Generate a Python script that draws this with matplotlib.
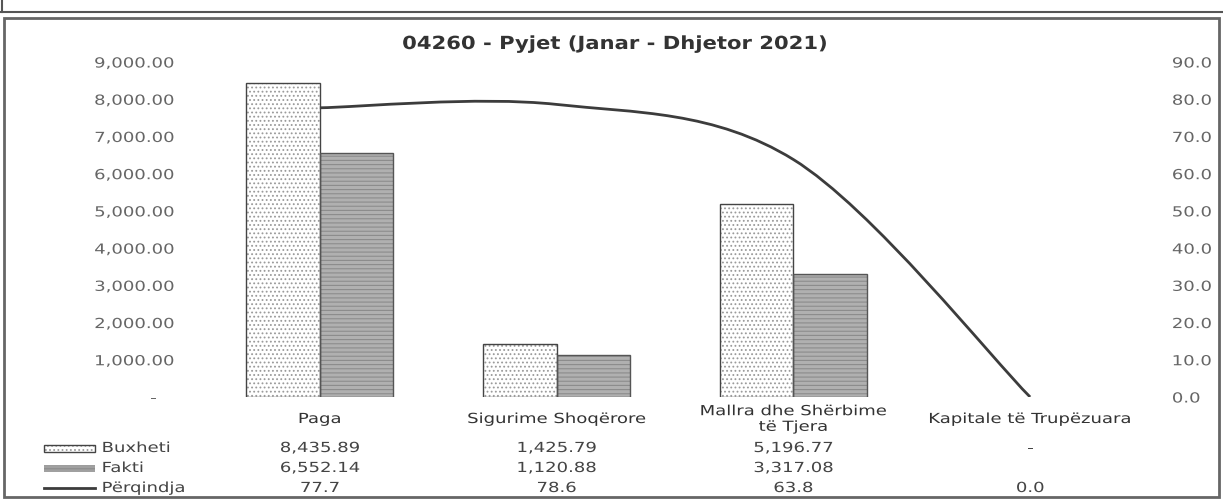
import matplotlib
matplotlib.use("Agg")
import matplotlib.pyplot as plt
import matplotlib.transforms as mtransforms
import matplotlib.patheffects as pe
from matplotlib.path import Path
from matplotlib.patches import PathPatch, Rectangle
from matplotlib.lines import Line2D
import numpy as np

title = "04260 - Pyjet (Janar - Dhjetor 2021)"
categories = ["Paga", "Sigurime Shoqërore", "Mallra dhe Shërbime\ntë Tjera", "Kapitale të Trupëzuara"]
buxheti = [8435.89, 1425.79, 5196.77, 0.0]
fakti = [6552.14, 1120.88, 3317.08, None]
perqindja = [77.7, 78.6, 63.8, 0.0]
series_names = ["Buxheti", "Fakti", "Përqindja"]

plt.rcParams['font.family'] = 'DejaVu Sans'
plt.rcParams['hatch.linewidth'] = 0.8


class Stretch(pe.AbstractPathEffect):
    """Widen text horizontally around a pivot (0 left, 0.5 centre, 1 right)."""

    def __init__(self, sx, anchor=0.5):
        super().__init__()
        self.sx = sx
        self.anchor = anchor

    def draw_path(self, renderer, gc, tpath, affine, rgbFace=None):
        ext = tpath.get_extents()
        pivot = ext.x0 + self.anchor * ext.width
        t = mtransforms.Affine2D().translate(-pivot, 0).scale(self.sx, 1).translate(pivot, 0)
        renderer.draw_path(gc, tpath, t + affine, rgbFace)


SX = 1.3
W, H = 1223, 499
fig = plt.figure(figsize=(W / 100, H / 100), dpi=100)

def px(x, y):
    # pixel position (from top-left) to figure fraction
    return x / W, 1 - y / H

# plot area
l, t = px(201.5, 62)
r, b = px(1148.5, 397)
ax = fig.add_axes([l, b, r - l, t - b])
ax2 = ax.twinx()

x = np.arange(len(categories))
bw = 0.31

# only categories that actually have a value get a bar
bx = [i for i, v in enumerate(buxheti) if v]
fx = [i for i, v in enumerate(fakti) if v]
bv = [buxheti[i] for i in bx]
fv = [fakti[i] for i in fx]
bx = np.array(bx) - bw / 2
fx = np.array(fx) + bw / 2

# fills with hatch, then outlines on top
ax.bar(bx, bv, bw, color="white", edgecolor="#9a9a9a", hatch="....", linewidth=0)
ax.bar(fx, fv, bw, color="#b0b0b0", edgecolor="#8c8c8c", hatch="----", linewidth=0)
ax.bar(bx, bv, bw, fill=False, edgecolor="#444444", linewidth=1.0)
ax.bar(fx, fv, bw, fill=False, edgecolor="#555555", linewidth=1.0)

ax.set_xlim(-0.5, len(categories) - 0.5)
ax.set_ylim(0, 9000)
ax.set_yticks(np.arange(0, 9001, 1000))
ax.set_yticklabels(["-    "] + ["{:,.2f}".format(v) for v in range(1000, 9001, 1000)])
ax.tick_params(axis="y", length=0, pad=20, labelsize=10, labelcolor="#666666")
ax.set_xticks([])
for lab in ax.get_yticklabels():
    lab.set_path_effects([Stretch(SX, 1.0)])

ax2.set_ylim(0, 90)
ax2.set_yticks(np.arange(0, 91, 10))
ax2.set_yticklabels(["{:.1f}".format(v) for v in range(0, 91, 10)])
ax2.tick_params(axis="y", length=0, pad=17, labelsize=10, labelcolor="#666666")
for lab in ax2.get_yticklabels():
    lab.set_path_effects([Stretch(SX, 0.0)])

for a in (ax, ax2):
    for s in a.spines.values():
        s.set_visible(False)

# smoothed percentage line (cardinal spline as cubic bezier segments)
pts = np.column_stack([x, perqindja]).astype(float)
verts = [tuple(pts[0])]
codes = [Path.MOVETO]
n = len(pts)
for i in range(n - 1):
    p0 = pts[max(i - 1, 0)]
    p1 = pts[i]
    p2 = pts[i + 1]
    p3 = pts[min(i + 2, n - 1)]
    c1 = p1 + (p2 - p0) / 6
    c2 = p2 - (p3 - p1) / 6
    verts += [tuple(c1), tuple(c2), tuple(p2)]
    codes += [Path.CURVE4] * 3
ax2.add_patch(PathPatch(Path(verts, codes), fill=False, edgecolor="#3c3c3c", linewidth=2.0))

fig.text(*px(614, 44), title, ha="center", va="center", fontsize=13, fontweight="bold",
         color="#333333", path_effects=[Stretch(1.17, 0.5)])

# category labels and data table under the plot
blend = mtransforms.blended_transform_factory(ax.transData, fig.transFigure)
for i, cat in enumerate(categories):
    fig.text(x[i], px(0, 419)[1], cat, transform=blend, ha="center", va="center",
             fontsize=10, color="#333333", linespacing=1.15, path_effects=[Stretch(SX, 0.5)])

row_y = [448, 468, 488]
rows = [
    ["{:,.2f}".format(v) if v else "-" for v in buxheti],
    ["{:,.2f}".format(v) if v else "" for v in fakti],
    ["{:.1f}".format(v) for v in perqindja],
]
for yy, row in zip(row_y, rows):
    for i, txt in enumerate(row):
        fig.text(x[i], px(0, yy)[1], txt, transform=blend, ha="center", va="center",
                 fontsize=10, color="#444444", path_effects=[Stretch(SX, 0.5)])

# legend keys in the table
for yy, name in zip(row_y, series_names):
    fig.text(*px(102, yy), name, ha="left", va="center", fontsize=10, color="#444444",
             path_effects=[Stretch(SX, 0.0)])
kx0, kx1 = 44 / W, 95 / W
kh = 7 / H
fig.add_artist(Rectangle((kx0, px(0, row_y[0])[1] - kh / 2), kx1 - kx0, kh, transform=fig.transFigure,
                         facecolor="white", edgecolor="#9a9a9a", hatch="....", linewidth=0))
fig.add_artist(Rectangle((kx0, px(0, row_y[0])[1] - kh / 2), kx1 - kx0, kh, transform=fig.transFigure,
                         fill=False, edgecolor="#444444", linewidth=1.0))
fig.add_artist(Rectangle((kx0, px(0, row_y[1])[1] - kh / 2), kx1 - kx0, kh, transform=fig.transFigure,
                         facecolor="#a0a0a0", edgecolor="#8c8c8c", hatch="----", linewidth=0))
fig.add_artist(Line2D([kx0, kx1], [px(0, row_y[2])[1]] * 2, transform=fig.transFigure,
                      color="#3c3c3c", linewidth=2.0))

# frame around the chart and the cut table row above it
fig.add_artist(Rectangle(px(4, 497), (1219 - 4) / W, (497 - 18) / H, transform=fig.transFigure,
                         fill=False, edgecolor="#666666", linewidth=2.0))
fig.add_artist(Line2D([0, 1], [px(0, 12)[1]] * 2, transform=fig.transFigure,
                      color="#555555", linewidth=1.5))
fig.add_artist(Line2D([0.002, 0.002], [px(0, 12)[1], 1], transform=fig.transFigure,
                      color="#555555", linewidth=1.5))

fig.savefig("out.png", dpi=100)
